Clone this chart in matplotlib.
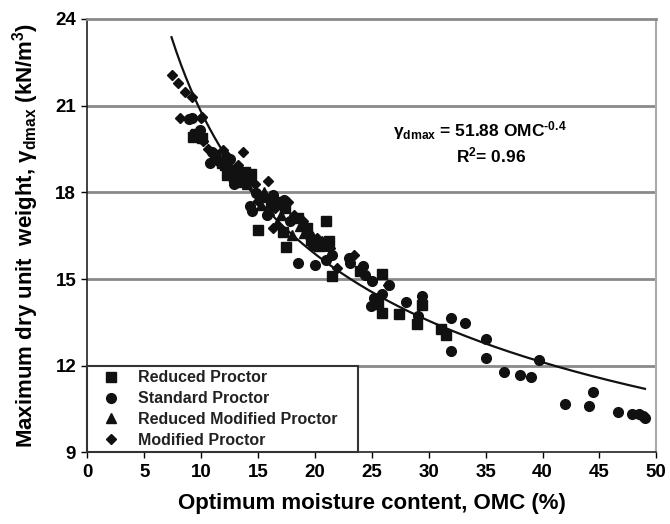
import numpy as np
import matplotlib.pyplot as plt

plt.rcParams['font.family'] = ['Liberation Sans', 'DejaVu Sans']
plt.rcParams['font.weight'] = 'bold'
plt.rcParams['mathtext.fontset'] = 'custom'
plt.rcParams['mathtext.rm'] = 'Liberation Sans:bold'
plt.rcParams['mathtext.bf'] = 'Liberation Sans:bold'
plt.rcParams['mathtext.it'] = 'Liberation Sans:bold'

# Reduced Proctor (squares)
rp_omc = [9.32, 9.59, 9.46, 10.05, 11.2, 12.14, 12.7, 12.9, 13.83, 14.4, 15.2, 14.96,
          16.1, 16.8, 17.4, 17.2, 17.5, 18.5, 19.3, 19.7, 20.4, 21.0, 21.2, 21.5,
          24.0, 25.5, 25.9, 25.9, 27.4, 29.0, 29.4, 31.1, 31.5, 12.3, 13.2, 11.8]
rp_gd = [19.91, 20.02, 19.98, 19.87, 19.28, 18.94, 18.76, 18.53, 18.7, 18.65, 17.85, 16.7,
         17.67, 17.67, 17.45, 16.64, 16.1, 17.1, 16.76, 16.36, 16.13, 17.0, 16.3, 15.1,
         15.27, 14.15, 15.18, 13.84, 13.78, 13.46, 14.1, 13.26, 13.06, 18.6, 18.45, 19.0]

# Standard Proctor (circles)
sp_omc = [8.95, 9.17, 9.89, 10.75, 11.58, 12.5, 13.46, 14.2, 14.8, 14.3, 14.47, 15.8,
          16.3, 17.3, 17.8, 18.5, 19.5, 19.85, 20.0, 21.0, 21.0, 21.5, 23.0, 23.1,
          24.2, 24.4, 25.0, 24.9, 25.2, 25.9, 26.5, 28.0, 29.1, 29.4, 32.0, 33.2,
          32.0, 35.0, 35.0, 36.6, 38.0, 39.0, 39.7, 42.0, 44.1, 44.4, 46.6, 47.9,
          48.5, 48.8, 49.0, 12.9, 13.9, 11.0]
sp_gd = [20.54, 20.56, 20.14, 19.0, 19.1, 19.17, 18.59, 18.48, 17.96, 17.54, 17.35, 17.2,
         17.9, 17.72, 17.0, 15.55, 16.53, 16.19, 15.5, 16.13, 15.67, 15.84, 15.73, 15.55,
         15.44, 15.15, 14.92, 14.07, 14.35, 14.47, 14.79, 14.2, 13.72, 14.41, 13.66, 13.49,
         12.5, 12.92, 12.27, 11.78, 11.68, 11.6, 12.2, 10.68, 10.6, 11.09, 10.4, 10.32,
         10.32, 10.25, 10.2, 18.3, 18.6, 19.4]

# Reduced Modified Proctor (triangles)
rmp_omc = [14.0, 15.5, 15.3, 17.0, 16.65, 17.97, 18.7, 20.6, 13.6, 16.0, 19.0]
rmp_gd = [18.3, 18.0, 17.56, 17.2, 16.93, 16.53, 16.82, 16.3, 18.35, 17.4, 16.6]

# Modified Proctor (diamonds)
mp_omc = [7.42, 8.0, 8.59, 9.17, 8.15, 9.96, 10.05, 10.19, 10.64, 11.95, 13.2, 13.65,
          14.7, 15.9, 16.47, 17.6, 16.3, 18.2, 18.98, 20.2, 21.35, 21.9, 23.4, 26.4,
          12.2, 15.0]
mp_gd = [22.06, 21.77, 21.48, 21.31, 20.56, 20.56, 20.62, 19.79, 19.5, 19.45, 18.94, 19.39,
         18.3, 18.4, 17.45, 17.67, 16.76, 17.2, 17.0, 16.41, 16.07, 15.38, 15.84, 14.8,
         19.3, 17.7]

# trend line as drawn in the picture
curve_a = 50.9
curve_b = -0.389
curve_x = np.linspace(7.4, 49, 200)

fig = plt.figure(figsize=(6.7, 5.24), dpi=100)
ax = fig.add_axes([0.1303, 0.1366, 0.8493, 0.8273])

ax.set_xlim(0, 50)
ax.set_ylim(9, 24)
ax.set_xticks(range(0, 51, 5))
ax.set_yticks(range(9, 25, 3))
for g in [12, 15, 18, 21]:
    ax.axhline(g, color='#8a8a8a', lw=2, zorder=1)

c = '#111111'
ax.plot(rp_omc, rp_gd, 's', color=c, ms=6.5, ls='none', label='Reduced Proctor', zorder=3)
ax.plot(sp_omc, sp_gd, 'o', color=c, ms=7, ls='none', label='Standard Proctor', zorder=3)
ax.plot(rmp_omc, rmp_gd, '^', color=c, ms=7, ls='none', label='Reduced Modified Proctor', zorder=3)
ax.plot(mp_omc, mp_gd, 'D', color=c, ms=5.5, ls='none', label='Modified Proctor', zorder=3)
ax.plot(curve_x, curve_a * curve_x ** curve_b, color=c, lw=1.6, zorder=4)

ax.text(26.9, 20.12, r'γ$_{\mathrm{dmax}}$ = 51.88 OMC$^{\text{-0.4}}$', fontsize=12.5,
        fontweight='bold', va='center')
ax.text(32.4, 19.26, r'R$^{\mathrm{2}}$= 0.96', fontsize=12.5, fontweight='bold', va='center')

leg = ax.legend(loc='lower left', bbox_to_anchor=(0, 0, 0.476, 0.2016), mode='expand',
                borderaxespad=0, fancybox=False, framealpha=1, edgecolor='#333333',
                prop={'size': 11.5, 'weight': 'bold'}, labelspacing=0.36, borderpad=0.3,
                handlelength=2.4, handletextpad=0.45)
leg.get_frame().set_linewidth(1.5)
for t in leg.get_texts():
    t.set_color('#222222')

for s in ['left', 'bottom']:
    ax.spines[s].set_color('#222222')
    ax.spines[s].set_linewidth(1.2)
ax.spines['top'].set_color('#8a8a8a')
ax.spines['top'].set_linewidth(2)
ax.spines['right'].set_color('#aaaaaa')
ax.spines['right'].set_linewidth(1.5)

ax.tick_params(direction='out', length=4, width=1, labelsize=13.5, pad=4)
for lab in ax.get_xticklabels() + ax.get_yticklabels():
    lab.set_fontweight('bold')

ax.set_xlabel('Optimum moisture content, OMC (%)', fontsize=16, fontweight='bold', labelpad=9)
ax.set_ylabel(r'Maximum dry unit  weight, γ$_{\mathrm{dmax}}$ (kN/m$^{\mathrm{3}}$)',
              fontsize=16, fontweight='bold', labelpad=10)

fig.savefig('out.png', dpi=100)
